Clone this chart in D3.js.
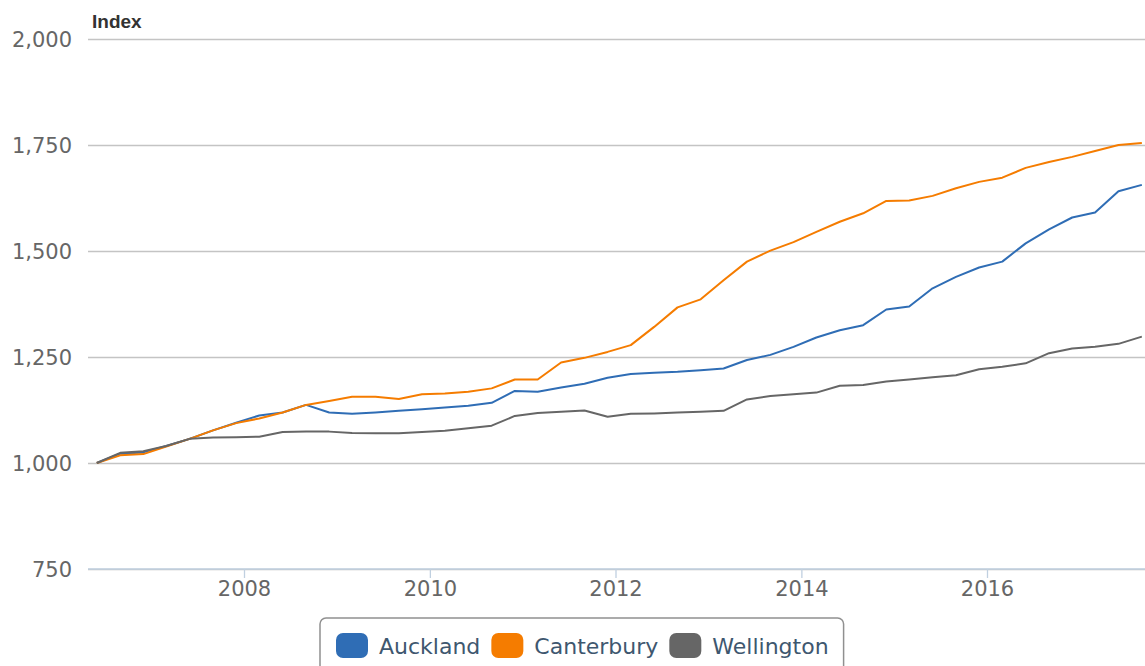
<!DOCTYPE html>
<html>
<head>
<meta charset="utf-8">
<script src="https://cdn.jsdelivr.net/npm/d3@7"></script>
<style>
  html, body { margin: 0; padding: 0; background: #fff; overflow: hidden; }
  svg { display: block; }
</style>
</head>
<body>
<svg id="chart" width="1145" height="666"></svg>
<script>
// ---- data ----
const quarters = [
  "2006-06","2006-09","2006-12","2007-03","2007-06","2007-09","2007-12","2008-03",
  "2008-06","2008-09","2008-12","2009-03","2009-06","2009-09","2009-12","2010-03",
  "2010-06","2010-09","2010-12","2011-03","2011-06","2011-09","2011-12","2012-03",
  "2012-06","2012-09","2012-12","2013-03","2013-06","2013-09","2013-12","2014-03",
  "2014-06","2014-09","2014-12","2015-03","2015-06","2015-09","2015-12","2016-03",
  "2016-06","2016-09","2016-12","2017-03","2017-06","2017-09"
];
const auckland = [
  1000,1022,1025,1040,1057,1077,1095,1112,1119,1137,1119,1116,1119,1123,1127,1131,
  1135,1142,1170,1168,1178,1187,1201,1210,1213,1215,1219,1223,1243,1255,1274,1296,
  1313,1325,1362,1369,1412,1439,1461,1475,1518,1551,1579,1591,1641,1656
];
const canterbury = [
  1000,1018,1021,1039,1057,1077,1094,1105,1119,1137,1146,1156,1156,1151,1162,1164,
  1168,1176,1197,1197,1237,1248,1262,1278,1321,1367,1386,1431,1475,1501,1521,1545,
  1569,1589,1618,1619,1630,1648,1663,1673,1696,1710,1722,1736,1750,1755
];
const wellington = [
  1000,1024,1028,1040,1057,1060,1061,1062,1073,1074,1074,1071,1070,1070,1073,1076,
  1082,1088,1111,1118,1121,1124,1109,1116,1117,1119,1121,1123,1150,1158,1162,1166,
  1182,1184,1192,1197,1202,1207,1221,1227,1235,1259,1270,1274,1281,1298
];
const seriesNames = ["Auckland", "Canterbury", "Wellington"];
const seriesColors = ["#2f6db5", "#f57c00", "#666666"];
const yTicks = [750, 1000, 1250, 1500, 1750, 2000];
const xTickYears = [2008, 2010, 2012, 2014, 2016];
const yTitle = "Index";

// ---- layout ----
const W = 1145, H = 666;
const plotLeft = 88, plotRight = 1145, plotTop = 39, plotBottom = 569;
const FONT = "'DejaVu Sans', sans-serif";

const parseQ = d3.timeParse("%Y-%m");
const dates = quarters.map(parseQ);

const x = d3.scaleTime()
  .domain([new Date(2008, 0, 1), new Date(2016, 0, 1)])
  .range([244, 987]);
const y = d3.scaleLinear().domain([750, 2000]).range([plotBottom, plotTop]);

const svg = d3.select("#chart");

// grid + y labels
const yAxis = d3.axisLeft(y)
  .tickValues(yTicks)
  .tickFormat(d3.format(","))
  .tickSizeInner(-(plotRight - plotLeft))
  .tickSizeOuter(0)
  .tickPadding(16);
const gy = svg.append("g").attr("transform", `translate(${plotLeft},0)`).call(yAxis);
gy.select(".domain").remove();
gy.selectAll(".tick line").attr("stroke", "#c4c4c4").attr("stroke-width", 1.3);
gy.selectAll(".tick text")
  .attr("fill", "#666")
  .attr("font-family", FONT)
  .attr("font-size", 21)
  .attr("dy", "0.36em");

// x axis
const xAxis = d3.axisBottom(x)
  .tickValues(xTickYears.map(yr => new Date(yr, 0, 1)))
  .tickFormat(d3.timeFormat("%Y"))
  .tickSizeInner(9)
  .tickSizeOuter(0)
  .tickPadding(3);
const gx = svg.append("g").attr("transform", `translate(0,${plotBottom})`).call(xAxis);
gx.select(".domain").remove();
gx.selectAll(".tick line").attr("stroke", "#c0d0e0").attr("stroke-width", 1.3);
gx.selectAll(".tick text")
  .attr("fill", "#666")
  .attr("font-family", FONT)
  .attr("font-size", 21);
svg.append("line")
  .attr("x1", plotLeft).attr("x2", plotRight)
  .attr("y1", plotBottom).attr("y2", plotBottom)
  .attr("stroke", "#c0d0e0").attr("stroke-width", 1.5);

// title
svg.append("text")
  .attr("x", 92).attr("y", 28)
  .attr("font-family", "'Liberation Sans', Arial, sans-serif")
  .attr("font-size", 19)
  .attr("font-weight", "bold")
  .attr("fill", "#333")
  .text(yTitle);

// lines
const seriesData = [auckland, canterbury, wellington];
const line = d3.line()
  .x((d, i) => x(dates[i]))
  .y(d => y(d));
seriesData.forEach((vals, si) => {
  svg.append("path")
    .datum(vals)
    .attr("fill", "none")
    .attr("stroke", seriesColors[si])
    .attr("stroke-width", 2)
    .attr("stroke-linejoin", "round")
    .attr("d", line);
});

// legend
const lg = svg.append("g");
const box = lg.append("rect")
  .attr("fill", "#fff")
  .attr("stroke", "#909090")
  .attr("stroke-width", 1.5)
  .attr("rx", 6).attr("ry", 6);
let cursor = 336;
seriesNames.forEach((name, i) => {
  lg.append("rect")
    .attr("x", cursor).attr("y", 633)
    .attr("width", 32).attr("height", 25)
    .attr("rx", 7).attr("ry", 7)
    .attr("fill", seriesColors[i]);
  const t = lg.append("text")
    .attr("x", cursor + 43).attr("y", 654)
    .attr("font-family", FONT)
    .attr("font-size", 22)
    .attr("fill", "#3e576f")
    .text(name);
  const w = t.node().getComputedTextLength();
  cursor = cursor + 43 + w + 11;
});
box.attr("x", 320).attr("y", 618)
  .attr("width", (cursor - 11 + 15) - 320).attr("height", 60);
</script>
</body>
</html>
